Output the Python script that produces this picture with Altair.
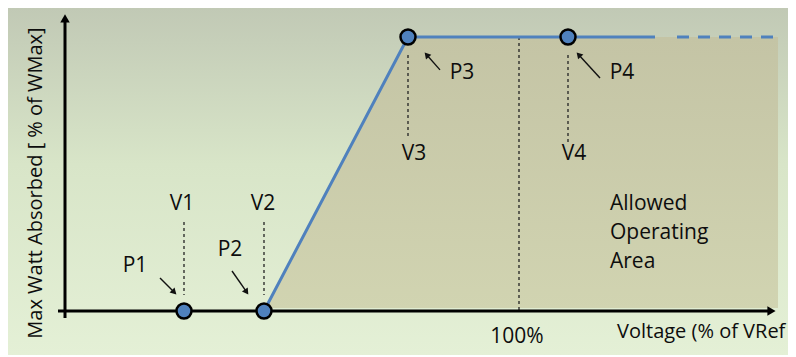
import math
import altair as alt
import pandas as pd

# ---------------- canvas / scale setup ----------------
W, H = 780, 347
XMIN, XMAX = 48.9, 126.9      # Voltage (% of VRef) domain shown
YMIN, YMAX = -16.06, 110.58   # Max Watt Absorbed (% of WMax) domain shown
KX = W / (XMAX - XMIN)
KY = H / (YMAX - YMIN)

FONT = "Open Sans"
BLUE = "#4f81bd"
TEXT = "#0d0d0d"

# ---------------- data ----------------
point_names = ["P1", "P2", "P3", "P4"]
point_v = [66.5, 74.5, 88.9, 104.9]
point_w = [0, 0, 100, 100]

curve_v = [74.5, 88.9, 113.6]
curve_w = [0, 100, 100]
dash_v = [115.8, 125.6]
dash_w = [100, 100]

area_v = [74.5, 88.9, 125.9]
area_w = [0, 100, 100]
area_base = 1.1

guide_names = ["V1", "V2", "V3", "V4", "100%"]
guide_v = [66.5, 74.5, 88.9, 104.9, 100.0]
guide_top = [32.5, 32.5, 93.4, 93.4, 100.0]
guide_bot = [5.8, 5.8, 63.5, 61.3, 0.0]

label_text = ["V1", "V2", "V3", "V4", "P1", "P2", "P3", "P4", "100%"]
label_v = [66.3, 74.4, 89.5, 105.5, 61.6, 71.1, 94.3, 110.3, 99.8]
label_w = [39.0, 39.0, 57.4, 57.4, 16.6, 22.1, 86.9, 86.9, -9.5]

area_label = ["Allowed", "Operating", "Area"]
area_label_v = [109.1, 109.1, 109.1]
area_label_w = [39.1, 28.5, 17.9]

x_title = "Voltage (% of VRef"
x_title_v, x_title_w = 109.8, -7.7
y_title = "Max Watt Absorbed [ % of WMax]"
y_title_v, y_title_w = 51.7, 46.7

# callout arrows (start -> tip)
arrow_sv = [64.1, 71.3, 92.1, 108.1]
arrow_sw = [12.0, 14.6, 88.0, 85.0]
arrow_ev = [65.7, 72.9, 90.6, 105.8]
arrow_ew = [6.2, 6.2, 94.2, 94.2]

# axes (start -> tip)
axis_sv = [53.9, 54.6]
axis_sw = [0.0, -2.6]
axis_ev = [125.7, 54.6]
axis_ew = [0.0, 108.4]


def heads(sv, sw, ev, ew, back):
    rows = []
    for a, b, c, d in zip(sv, sw, ev, ew):
        dx = (c - a) * KX
        dy = -(d - b) * KY
        L = math.hypot(dx, dy)
        ang = math.degrees(math.atan2(dx, -dy)) % 360
        hx = c - dx / L * back / KX
        hy = d + dy / L * back / KY
        rows.append({"sv": a, "sw": b, "v": hx, "w": hy, "angle": ang})
    return pd.DataFrame(rows)


def X(field="v"):
    return alt.X(field, type="quantitative", axis=None,
                 scale=alt.Scale(domain=[XMIN, XMAX], nice=False, zero=False))


def Y(field="w"):
    return alt.Y(field, type="quantitative", axis=None,
                 scale=alt.Scale(domain=[YMIN, YMAX], nice=False, zero=False))


# ---------------- layers ----------------
bg = alt.Chart(pd.DataFrame({"v": [XMIN], "v2": [XMAX], "w": [YMIN], "w2": [YMAX]})).mark_rect(
    color=alt.Gradient(gradient="linear", x1=0, y1=0, x2=0, y2=1,
                       stops=[alt.GradientStop(color="#c1c9b5", offset=0),
                              alt.GradientStop(color="#d8e5c8", offset=0.45),
                              alt.GradientStop(color="#e4f0d6", offset=1)])
).encode(x=X("v"), x2="v2", y=Y("w"), y2="w2")

area_df = pd.DataFrame({"v": area_v, "w": area_w, "base": [area_base] * len(area_v)})
area = alt.Chart(area_df).mark_area(
    color=alt.Gradient(gradient="linear", x1=0, y1=0, x2=0, y2=1,
                       stops=[alt.GradientStop(color="#c4c4a5", offset=0),
                              alt.GradientStop(color="#d1d4b1", offset=1)]),
    interpolate="linear"
).encode(x=X("v"), y=Y("w"), y2="base")

guide_df = pd.DataFrame({"name": guide_names, "v": guide_v, "w": guide_top, "w2": guide_bot})
guides = alt.Chart(guide_df).mark_rule(color="#222222", strokeWidth=1.3, strokeDash=[3, 3]).encode(
    x=X("v"), y=Y("w"), y2="w2")

axes_df = pd.DataFrame({"sv": axis_sv, "sw": axis_sw, "ev": axis_ev, "ew": axis_ew})
axis_heads = heads(axis_sv, axis_sw, axis_ev, axis_ew, 4.5)
axes_df["hv"] = axis_heads["v"]
axes_df["hw"] = axis_heads["w"]
axes = alt.Chart(axes_df).mark_rule(color="black", strokeWidth=3).encode(
    x=X("sv"), y=Y("sw"), x2="hv", y2="hw")
axes_tri = alt.Chart(axis_heads).mark_point(shape="triangle-up", filled=True, color="black",
                                            size=90, opacity=1).encode(
    x=X("v"), y=Y("w"), angle=alt.Angle("angle:Q", scale=None))

curve = alt.Chart(pd.DataFrame({"v": curve_v, "w": curve_w})).mark_line(
    color=BLUE, strokeWidth=3).encode(x=X("v"), y=Y("w"))
dashed = alt.Chart(pd.DataFrame({"v": dash_v, "w": dash_w})).mark_line(
    color=BLUE, strokeWidth=3, strokeDash=[12, 9]).encode(x=X("v"), y=Y("w"))

points = alt.Chart(pd.DataFrame({"name": point_names, "v": point_v, "w": point_w})).mark_point(
    shape="circle", filled=True, fill=BLUE, stroke="black", strokeWidth=2.5, size=225, opacity=1
).encode(x=X("v"), y=Y("w"))

arrow_heads = heads(arrow_sv, arrow_sw, arrow_ev, arrow_ew, 2.5)
arrow_df = pd.DataFrame({"sv": arrow_sv, "sw": arrow_sw, "hv": arrow_heads["v"], "hw": arrow_heads["w"]})
arrows = alt.Chart(arrow_df).mark_rule(color="#111111", strokeWidth=1.4).encode(
    x=X("sv"), y=Y("sw"), x2="hv", y2="hw")
arrow_tri = alt.Chart(arrow_heads).mark_point(shape="triangle-up", filled=True, color="#111111",
                                              size=50, opacity=1).encode(
    x=X("v"), y=Y("w"), angle=alt.Angle("angle:Q", scale=None))

labels = alt.Chart(pd.DataFrame({"t": label_text, "v": label_v, "w": label_w})).mark_text(
    font=FONT, fontSize=21, color=TEXT, align="center", baseline="middle").encode(
    x=X("v"), y=Y("w"), text="t:N")

area_labels = alt.Chart(pd.DataFrame({"t": area_label, "v": area_label_v, "w": area_label_w})).mark_text(
    font=FONT, fontSize=21, color=TEXT, align="left", baseline="middle").encode(
    x=X("v"), y=Y("w"), text="t:N")

xt = alt.Chart(pd.DataFrame({"t": [x_title], "v": [x_title_v], "w": [x_title_w]})).mark_text(
    font=FONT, fontSize=20, color=TEXT, align="left", baseline="middle").encode(
    x=X("v"), y=Y("w"), text="t:N")

yt = alt.Chart(pd.DataFrame({"t": [y_title], "v": [y_title_v], "w": [y_title_w]})).mark_text(
    font=FONT, fontSize=20, color=TEXT, align="center", baseline="middle", angle=270).encode(
    x=X("v"), y=Y("w"), text="t:N")

chart = alt.layer(
    bg, area, guides, axes, axes_tri, curve, dashed, points, arrows, arrow_tri,
    labels, area_labels, xt, yt
).properties(
    width=W, height=H, padding=0, autosize=alt.AutoSizeParams(type="none")
).configure_view(stroke=None)

chart.save("out.html", embed_options={"renderer": "svg", "actions": False})
